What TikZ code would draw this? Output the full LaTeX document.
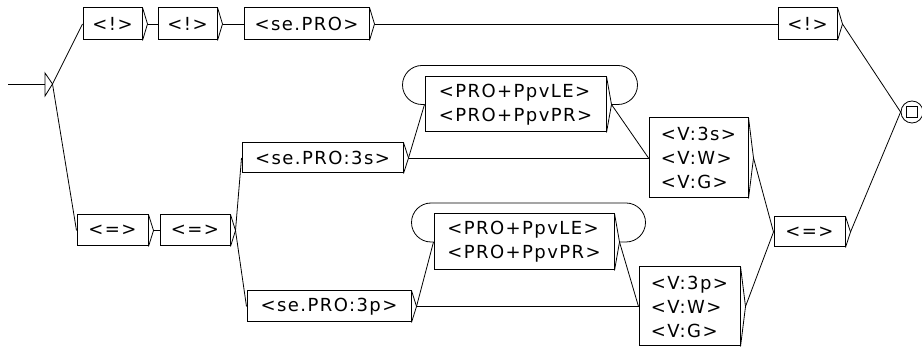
\documentclass[tikz,border=0pt]{standalone}
\usepackage{fontspec}
\setmainfont{DejaVu Sans}[LetterSpace=8]
\usetikzlibrary{calc}
\begin{document}
\begin{tikzpicture}[x=1pt,y=-1pt,
  box/.style={draw, line width=1pt, inner sep=0pt, font=\fontsize{18}{24}\selectfont, align=left},
  conn/.style={line width=0.8pt},
  loopl/.style={line width=0.8pt}]
\useasboundingbox (0,0) rectangle (922,347);
% boxes
\node[box, minimum width=59pt, minimum height=32pt] (b1) at (112.5,24) {<!>};
\node[box, minimum width=59pt, minimum height=32pt] (b2) at (187.5,24) {<!>};
\node[box, minimum width=125pt, minimum height=32pt] (sp) at (306.5,24) {<se.PRO>};
\node[box, minimum width=59pt, minimum height=32pt] (tp) at (807.5,24) {<!>};
\node[box, minimum width=71pt, minimum height=31pt] (e1) at (112.5,230.5) {<=>};
\node[box, minimum width=70pt, minimum height=31pt] (e2) at (195,230.5) {<=>};
\node[box, minimum width=161pt, minimum height=30pt] (s3s) at (322.5,158) {<se.PRO:3s>};
\node[box, minimum width=164pt, minimum height=31pt] (s3p) at (329,306.5) {<se.PRO:3p>};
\node[box, minimum width=181pt, minimum height=55pt] (p1) at (515.5,104.5) {<PRO+PpvLE>\\<PRO+PpvPR>};
\node[box, minimum width=180pt, minimum height=56pt] (p2) at (524,242) {<PRO+PpvLE>\\<PRO+PpvPR>};
\node[box, minimum width=99pt, minimum height=80pt] (v1) at (698.5,158) {<V:3s>\\<V:W>\\<V:G>};
\node[box, minimum width=101pt, minimum height=79pt] (v2) at (689.5,306.5) {<V:3p>\\<V:W>\\<V:G>};
\node[box, minimum width=71pt, minimum height=30pt] (er) at (809.5,232) {<=>};
% brackets (output tips)
\foreach \n in {b1,b2,sp,tp,e1,e2,s3s,s3p,p1,p2,v1,v2,er}{
  \coordinate (\n t) at ($(\n.east)+(5,0)$);
  \draw[conn] (\n.north east) -- (\n t) -- (\n.south east);
}
% initial state
\coordinate (entry) at (8,84);
\coordinate (ib) at (45,84);
\coordinate (ini) at (52.5,84);
\draw[conn] (entry) -- (ib);
\draw[conn] (45,73) -- (45,96) -- (ini) -- cycle;
% final state
\node[circle, draw, line width=0.8pt, minimum size=22pt, inner sep=0pt] (fin) at (912,112) {};
\node[draw, line width=0.8pt, minimum size=11pt, inner sep=0pt] (finsq) at (fin.center) {};
% connectors
\draw[conn] (ini) -- (b1.west);
\draw[conn] (ini) -- (e1.west);
\draw[conn] (b1t) -- (b2.west);
\draw[conn] (b2t) -- (sp.west);
\draw[conn] (spt) -- (tp.west);
\draw[conn] (tpt) -- (fin.west);
\draw[conn] (e1t) -- (e2.west);
\draw[conn] (e2t) -- (s3s.west);
\draw[conn] (e2t) -- (s3p.west);
\draw[conn] (s3st) -- (p1.west);
\draw[conn] (s3st) -- (v1.west);
\draw[conn] (p1t) -- (v1.west);
\draw[conn] (s3pt) -- (p2.west);
\draw[conn] (s3pt) -- (v2.west);
\draw[conn] (p2t) -- (v2.west);
\draw[conn] (v1t) -- (er.west);
\draw[conn] (v2t) -- (er.west);
\draw[conn] (ert) -- (fin.west);
% loops
\draw[loopl] (p1t) -- ($(p1t)+(6.5,0)$) arc[start angle=-90,end angle=90,radius=19.5pt]
  -- ($(p1.west)+(-2.5,-39)$) arc[start angle=90,end angle=270,radius=19.5pt] -- (p1.west);
\draw[loopl] (p2t) -- ($(p2t)+(6.5,0)$) arc[start angle=-90,end angle=90,radius=19.5pt]
  -- ($(p2.west)+(-2.5,-39)$) arc[start angle=90,end angle=270,radius=19.5pt] -- (p2.west);
\end{tikzpicture}
\end{document}
